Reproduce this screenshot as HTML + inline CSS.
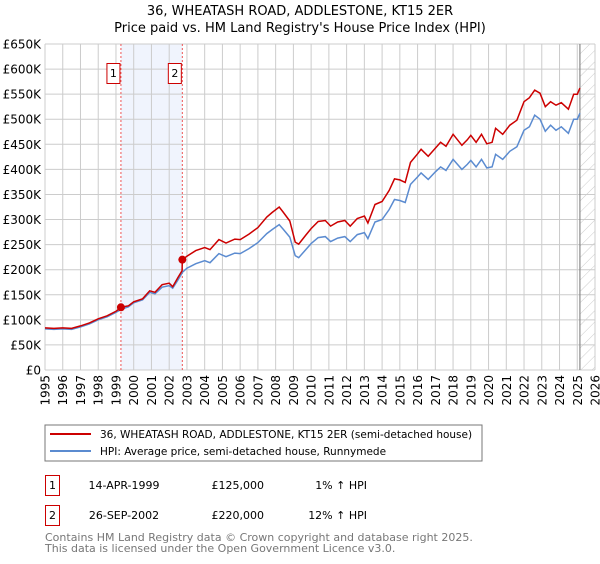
<!DOCTYPE html>
<html><head><meta charset="utf-8"><style>
body{margin:0;background:#fff;width:600px;height:560px;overflow:hidden;font-family:"DejaVu Sans","Liberation Sans",sans-serif;}
svg text{font-family:"DejaVu Sans","Liberation Sans",sans-serif;}
</style></head><body>
<svg id="chart" width="600" height="560">
<defs><pattern id="hatch" patternUnits="userSpaceOnUse" width="8" height="8" patternTransform="rotate(45)"><line x1="0" y1="0" x2="0" y2="8" stroke="#ccc" stroke-width="1"/></pattern></defs>
<text x="300" y="15" text-anchor="middle" font-size="13">36, WHEATASH ROAD, ADDLESTONE, KT15 2ER</text>
<text x="300" y="32" text-anchor="middle" font-size="13">Price paid vs. HM Land Registry's House Price Index (HPI)</text>
<g id="plot"></g>
<rect x="45" y="425" width="437" height="36" fill="#fff" stroke="#777"/>
<line x1="50" y1="434" x2="91" y2="434" stroke="#cc0000" stroke-width="2"/>
<text x="100" y="438" font-size="10.5">36, WHEATASH ROAD, ADDLESTONE, KT15 2ER (semi-detached house)</text>
<line x1="50" y1="451" x2="91" y2="451" stroke="#5b8bd0" stroke-width="2"/>
<text x="100" y="455" font-size="10.5">HPI: Average price, semi-detached house, Runnymede</text>
<g>
<rect x="45.5" y="475.5" width="14" height="20" fill="#fff" stroke="#cc0000"/>
<text x="52.5" y="489" font-size="11" text-anchor="middle">1</text>
<text x="124" y="489" font-size="11" text-anchor="middle">14-APR-1999</text>
<text x="264" y="489" font-size="11" text-anchor="end">£125,000</text>
<text x="367" y="489" font-size="11" text-anchor="end">1% ↑ HPI</text></g>
<g>
<rect x="45.5" y="505.5" width="14" height="20" fill="#fff" stroke="#cc0000"/>
<text x="52.5" y="519" font-size="11" text-anchor="middle">2</text>
<text x="124" y="519" font-size="11" text-anchor="middle">26-SEP-2002</text>
<text x="264" y="519" font-size="11" text-anchor="end">£220,000</text>
<text x="367" y="519" font-size="11" text-anchor="end">12% ↑ HPI</text></g>
<text x="45" y="541" font-size="11" fill="#777">Contains HM Land Registry data © Crown copyright and database right 2025.</text>
<text x="45" y="552" font-size="11" fill="#777">This data is licensed under the Open Government Licence v3.0.</text>
</svg>
<script>
const hpiYears=[1995,1995.5,1996,1996.5,1997,1997.5,1998,1998.5,1999,1999.3,1999.7,2000,2000.5,2000.9,2001.2,2001.6,2002,2002.2,2002.5,2002.75,2003,2003.5,2004,2004.3,2004.8,2005.2,2005.7,2006,2006.5,2007,2007.5,2007.8,2008.2,2008.4,2008.8,2009.1,2009.3,2009.7,2010,2010.4,2010.8,2011.1,2011.5,2011.9,2012.2,2012.6,2013,2013.2,2013.6,2014,2014.4,2014.7,2015,2015.3,2015.6,2016,2016.2,2016.6,2017,2017.3,2017.6,2018,2018.5,2018.8,2019,2019.3,2019.6,2019.9,2020.2,2020.4,2020.8,2021.2,2021.6,2022,2022.3,2022.6,2022.9,2023.2,2023.5,2023.8,2024.1,2024.5,2024.8,2025,2025.15];
const hpiValues=[82,81,82,81,86,92,100,106,115,121,126,134,140,155,152,165,168,163,180,195,203,212,218,214,232,226,233,232,242,254,272,280,290,282,265,228,224,240,252,264,266,256,263,266,256,270,274,262,295,300,320,340,338,334,370,385,393,380,395,405,398,420,400,410,418,405,420,403,405,430,420,436,445,478,485,508,500,476,488,478,485,472,500,500,512];
const priceYears=[1995,1995.5,1996,1996.5,1997,1997.5,1998,1998.5,1999,1999.28,1999.7,2000,2000.5,2000.9,2001.2,2001.6,2002,2002.2,2002.5,2002.73,2002.74,2003,2003.5,2004,2004.3,2004.8,2005.2,2005.7,2006,2006.5,2007,2007.5,2007.8,2008.2,2008.4,2008.8,2009.1,2009.3,2009.7,2010,2010.4,2010.8,2011.1,2011.5,2011.9,2012.2,2012.6,2013,2013.2,2013.6,2014,2014.4,2014.7,2015,2015.3,2015.6,2016,2016.2,2016.6,2017,2017.3,2017.6,2018,2018.5,2018.8,2019,2019.3,2019.6,2019.9,2020.2,2020.4,2020.8,2021.2,2021.6,2022,2022.3,2022.6,2022.9,2023.2,2023.5,2023.8,2024.1,2024.5,2024.8,2025,2025.15];
const priceValues=[84,83,84,83,88,94,102,108,117,125,128,136,142,158,155,170,173,166,185,198,220,227,238,244,240,260,253,261,260,271,284,305,314,325,316,297,255,251,269,282,296,298,287,295,298,287,302,307,293,330,336,358,381,379,374,414,431,440,426,442,454,446,470,448,459,468,454,470,451,454,482,470,488,498,535,543,558,552,525,535,528,533,520,550,550,562];
const saleYears=[1999.28,2002.74];
const saleValues=[125,220];
const saleLabels=["1","2"];
const yTicks=[0,50,100,150,200,250,300,350,400,450,500,550,600,650];
const yTickLabels=["£0","£50K","£100K","£150K","£200K","£250K","£300K","£350K","£400K","£450K","£500K","£550K","£600K","£650K"];
const xTicks=[1995,1996,1997,1998,1999,2000,2001,2002,2003,2004,2005,2006,2007,2008,2009,2010,2011,2012,2013,2014,2015,2016,2017,2018,2019,2020,2021,2022,2023,2024,2025,2026];
const dataEnd=2025.15;

const L=45,R=595,T=44,B=370;
const x=v=>L+(v-1995)/(2026-1995)*(R-L);
const y=v=>B-v/650*(B-T);
const g=document.getElementById('plot');
const NS='http://www.w3.org/2000/svg';
function mk(t,a){const e=document.createElementNS(NS,t);for(const k in a)e.setAttribute(k,a[k]);g.appendChild(e);return e;}
let e;
e=mk('rect',{x:x(saleYears[0]),y:T,width:x(saleYears[1])-x(saleYears[0]),height:B-T,fill:'#f0f4fd'});


e=mk('rect',{x:x(dataEnd),y:T,width:R-x(dataEnd),height:B-T,fill:'url(#hatch)'});


yTicks.forEach((v,i)=>{
 e=mk('line',{x1:L,x2:R,y1:y(v),y2:y(v),stroke:'#ccc','stroke-width':1});
 
 
 e=mk('text',{x:L-4,y:y(v)+4.5,'text-anchor':'end','font-size':12,fill:'#000'});e.textContent=yTickLabels[i];
 
 
});
xTicks.forEach(v=>{
 e=mk('line',{x1:x(v),x2:x(v),y1:T,y2:B,stroke:'#ccc','stroke-width':1});
 
 
 e=mk('text',{x:0,y:0,'text-anchor':'end','font-size':12,transform:`translate(${x(v)+4.5},${B+5}) rotate(-90)`});e.textContent=v;
 
 
});
e=mk('line',{x1:x(dataEnd),x2:x(dataEnd),y1:T,y2:B,stroke:'#888','stroke-width':1.2});


saleYears.forEach((v,i)=>{
 e=mk('line',{x1:x(v),x2:x(v),y1:T,y2:B,stroke:'#e55','stroke-width':1,'stroke-dasharray':'2,2'});
 
 
 e=mk('rect',{x:x(v)-14,y:63.5,width:13,height:20,fill:'#fff',stroke:'#cc0000'});
 
 
 e=mk('text',{x:x(v)-7.5,y:77,'text-anchor':'middle','font-size':11});e.textContent=saleLabels[i];
 
 
});
const path=(xs,vs)=>xs.map((t,i)=>(i?'L':'M')+x(t).toFixed(1)+','+y(vs[i]).toFixed(1)).join('');
e=mk('path',{d:path(hpiYears,hpiValues),fill:'none',stroke:'#5b8bd0','stroke-width':1.5});


e=mk('path',{d:path(priceYears,priceValues),fill:'none',stroke:'#cc0000','stroke-width':1.5});


saleYears.forEach((v,i)=>{
 e=mk('circle',{cx:x(v),cy:y(saleValues[i]),r:4,fill:'#cc0000'});
 
 
});
</script>
</body></html>
